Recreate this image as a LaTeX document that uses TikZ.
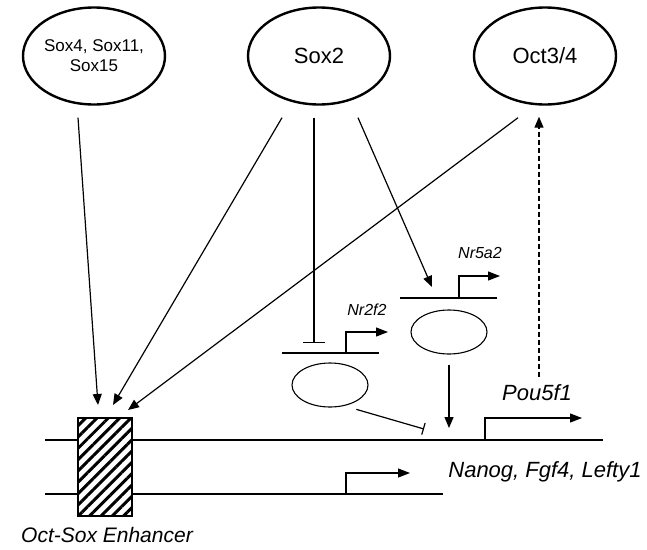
\documentclass[tikz,border=0pt]{standalone}
\usepackage{fontspec}
\setmainfont{Liberation Sans}
\usetikzlibrary{shapes.geometric,arrows.meta,patterns.meta}

\begin{document}
\begin{tikzpicture}[x=1pt, y=-1pt,
  factor/.style={ellipse, draw, line width=2.4pt, minimum width=142pt,
                 minimum height=97pt, inner sep=0pt, align=center},
  product/.style={ellipse, draw, line width=1.1pt, minimum width=76pt,
                  minimum height=44pt, inner sep=0pt},
  dna/.style={line width=1.4pt},
  act/.style={line width=1.2pt, -{Triangle[length=11pt,width=9pt]}},
  rep/.style={line width=1.2pt, -{Bar[width=#1]}},
  tss/.style={line width=1.2pt, -{Triangle[length=12pt,width=9pt]}},
  gene/.style={font=\fontsize{#1}{#1}\selectfont\itshape},
]
  \useasboundingbox (0,0) rectangle (647,549);

  % transcription factors
  \node[factor, font=\fontsize{17}{20}\selectfont] (sox4) at (94,56) {Sox4, Sox11,\\Sox15};
  \node[factor, font=\fontsize{22}{24}\selectfont] (sox2) at (319,56) {Sox2};
  \node[factor, font=\fontsize{22}{24}\selectfont] (oct) at (545,56) {Oct3/4};

  % DNA strands
  \draw[dna] (45,440) -- (603,440);
  \draw[dna] (45,494) -- (443,494);
  \node[draw, line width=1.4pt, minimum width=54pt, minimum height=98pt, inner sep=0pt,
        preaction={fill=white}, pattern={Lines[angle=45,distance=8pt,line width=3pt]}]
        (enh) at (105,467) {};
  \node[gene=21] (enhlbl) at (107,535) {Oct-Sox Enhancer};

  % Nr2f2 gene
  \draw[dna] (282,353) -- (379,353);
  \draw[tss] (346,353) |- (388,332);
  \node[gene=16] (nr2f2) at (367,310) {Nr2f2};
  \node[product] (nr2f2p) at (330,385) {};

  % Nr5a2 gene
  \draw[dna] (400,298) -- (497,298);
  \draw[tss] (459,298) |- (500,276);
  \node[gene=16] (nr5a2) at (480,253) {Nr5a2};
  \node[product] (nr5a2p) at (449,332) {};

  % target genes
  \draw[tss] (485,440) |- (582,418);
  \node[gene=22] (pou) at (537,393) {Pou5f1};
  \draw[tss] (346,494) |- (410,473);
  \node[gene=22] (nanog) at (545,472) {Nanog, Fgf4, Lefty1};

  \coordinate (e1) at (98,405);
  \coordinate (e2) at (113,405);
  \coordinate (e3) at (128,410);
  \coordinate (nr2f2site) at (314,343);
  \coordinate (nr5a2site) at (432,287);
  \coordinate (pousite) at (539,377);
  \coordinate (nr2f2hit) at (424,429);
  \coordinate (nr5a2hit) at (449,428);

  % regulation
  \draw[act] ([xshift=-16pt,yshift=-12pt]sox4.south) -- (e1);
  \draw[act] ([xshift=-37pt,yshift=-12pt]sox2.south) -- (e2);
  \draw[rep=22pt] ([xshift=-5pt,yshift=-12pt]sox2.south) -- (nr2f2site);
  \draw[act] ([xshift=39pt,yshift=-12pt]sox2.south) -- (nr5a2site);
  \draw[act] ([xshift=-27pt,yshift=-12pt]oct.south) -- (e3);
  \draw[act, dash pattern=on 5pt off 3pt] (pousite) -- ([xshift=-6pt,yshift=-11pt]oct.south);
  \draw[rep=12pt] ([xshift=14pt,yshift=-3pt]nr2f2p.-60) -- (nr2f2hit);
  \draw[act] ([yshift=-10pt]nr5a2p.south) -- (nr5a2hit);
\end{tikzpicture}
\end{document}
